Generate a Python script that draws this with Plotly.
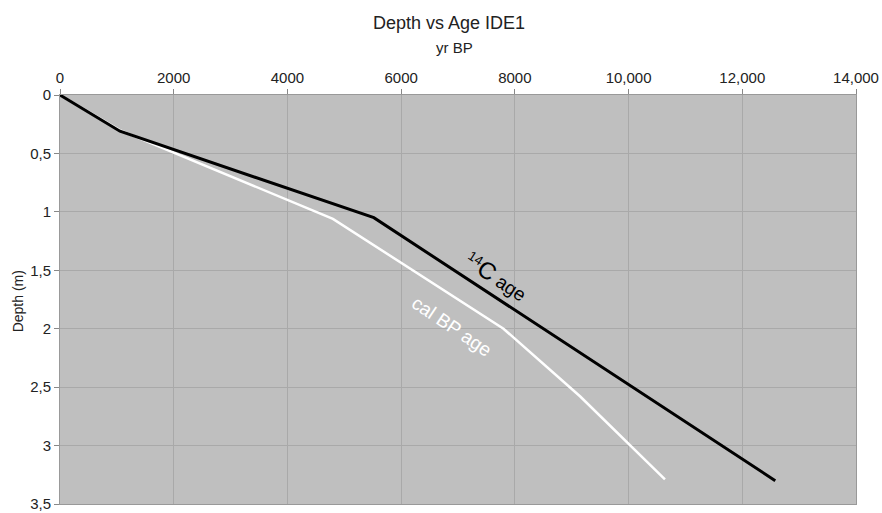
import plotly.graph_objects as go

# Data
c14_age = [0, 1055, 5520, 12580]
c14_depth = [0, 0.31, 1.05, 3.30]

cal_age = [0, 1050, 4800, 7800, 9150, 10640]
cal_depth = [0, 0.30, 1.06, 2.00, 2.58, 3.29]

x_tickvals = [0, 2000, 4000, 6000, 8000, 10000, 12000, 14000]
x_ticktext = ["0", "2000", "4000", "6000", "8000", "10,000", "12,000", "14,000"]
y_tickvals = [0, 0.5, 1, 1.5, 2, 2.5, 3, 3.5]
y_ticktext = ["0", "0,5", "1", "1,5", "2", "2,5", "3", "3,5"]

FONT = "Liberation Sans, Arial, sans-serif"

fig = go.Figure()
fig.add_trace(go.Scatter(x=cal_age, y=cal_depth, mode="lines",
                         line=dict(color="white", width=2.5), showlegend=False))
fig.add_trace(go.Scatter(x=c14_age, y=c14_depth, mode="lines",
                         line=dict(color="black", width=3), showlegend=False))

fig.update_layout(
    width=882, height=513,
    margin=dict(l=60, r=26, t=95, b=9, autoexpand=False),
    paper_bgcolor="white",
    plot_bgcolor="#bfbfbf",
    font=dict(family=FONT, color="#222222", size=15),
    xaxis=dict(side="top", range=[0, 14000], tickvals=x_tickvals, ticktext=x_ticktext,
               showgrid=True, gridcolor="#a9a9a9", gridwidth=1,
               ticks="outside", ticklen=5, tickcolor="#888888",
               showline=True, linecolor="#999999", linewidth=1, mirror=True,
               zeroline=False, tickfont=dict(size=15), ticklabeloverflow="allow",
               automargin=False),
    yaxis=dict(range=[3.5, 0], tickvals=y_tickvals, ticktext=y_ticktext,
               showgrid=True, gridcolor="#a9a9a9", gridwidth=1,
               ticks="outside", ticklen=5, tickcolor="#888888",
               showline=True, linecolor="#999999", linewidth=1, mirror=True,
               zeroline=False, tickfont=dict(size=15), ticklabeloverflow="allow",
               automargin=False),
    annotations=[
        dict(text="Depth vs Age IDE1", xref="paper", yref="paper", x=0.489, y=1.177,
             showarrow=False, font=dict(size=18, color="#222222"), xanchor="center", yanchor="middle"),
        dict(text="yr BP", xref="paper", yref="paper", x=0.495, y=1.117,
             showarrow=False, font=dict(size=15, color="#222222"), xanchor="center", yanchor="middle"),
        dict(text="Depth (m)", xref="paper", yref="paper", x=-0.053, y=0.495,
             showarrow=False, textangle=-90, font=dict(size=14, color="#222222"),
             xanchor="center", yanchor="middle"),
        dict(text="<sup>14</sup><span style='font-size:24px'>C</span> age", xref="x", yref="y",
             x=7680, y=1.55, showarrow=False, textangle=33,
             font=dict(size=19, color="black")),
        dict(text="cal BP age", xref="x", yref="y", x=6895, y=1.98, showarrow=False,
             textangle=34, font=dict(size=19, color="white")),
    ],
)

fig.write_html("out.html")
